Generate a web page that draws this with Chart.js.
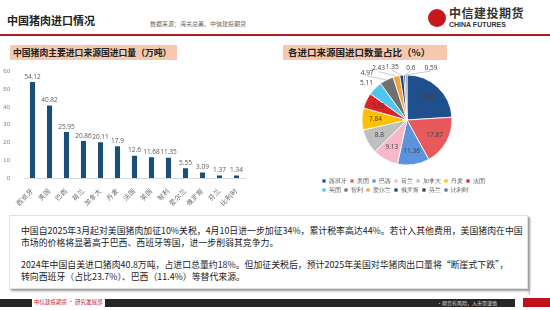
<!DOCTYPE html>
<html>
<head>
<meta charset="utf-8">
<script src="https://cdn.jsdelivr.net/npm/chart.js@4.4.1/dist/chart.umd.min.js"></script>
<style>
  body { margin: 0; width: 550px; height: 310px; background: #fff; overflow: hidden;
         font-family: "Noto Sans CJK SC", "Noto Sans", sans-serif; position: relative; }
  .abs { position: absolute; }
  #title { left: 7px; top: 12px; font-size: 11px; font-weight: bold; color: #222; }
  #source { left: 150px; top: 19px; font-size: 6px; color: #666; }
  #logoCircle { left: 428px; top: 9px; width: 18px; height: 18px; border-radius: 50%; background: #c8161d; }
  #logoCn { left: 449px; top: 4px; font-size: 12px; font-weight: bold; color: #333; letter-spacing: 0.5px; }
  #logoEn { left: 449px; top: 21px; font-size: 7px; font-weight: bold; color: #333; font-family: "Liberation Sans", sans-serif; }
  #topLine { left: 0; top: 34px; width: 550px; height: 2px; background: #b01c20; }
  .hdr { background: #f6c9ae; font-weight: bold; color: #222; white-space: nowrap; }
  #hdrL { left: 10px; top: 45px; width: 167px; height: 15px; font-size: 8.8px; line-height: 15px; padding-left: 3px; box-sizing: border-box; }
  #hdrR { left: 283px; top: 45px; width: 164px; height: 15px; font-size: 9.5px; line-height: 15px; padding-left: 5px; box-sizing: border-box; }
  #box { left: 9px; top: 215px; width: 519px; height: 74px; border: 1px solid #e2e2e2; box-shadow: 2px 2px 2px #999;
         box-sizing: border-box; padding: 9px 0 0 11px; font-size: 8.9px; line-height: 11.5px; color: #222; white-space: nowrap; }
  #box p { margin: 0 0 11px 0; }
  #ftBlack1 { left: 0; top: 299px; width: 32px; height: 8px; background: #262626; }
  #ftRed { left: 34px; top: 298px; font-size: 5.5px; color: #c0202a; }
  #ftBlack2 { left: 105px; top: 299px; width: 410px; height: 8px; background: #262626; }
  #ftWhite { left: 437px; top: 299px; font-size: 5px; color: #ddd; line-height: 8px; }
  #ftArrow { left: 523px; top: 298px; width: 27px; height: 9px; background: #c0101a; }
  #pageNo { left: 527px; top: 288px; font-size: 6px; color: #999; }
</style>
</head>
<body>
<div class="abs" id="title">中国猪肉进口情况</div>
<div class="abs" id="source">数据来源：海关总署、中信建投期货</div>
<div class="abs" id="logoCircle"></div>
<div class="abs" id="logoCn">中信建投期货</div>
<div class="abs" id="logoEn">CHINA FUTURES</div>
<div class="abs" id="topLine"></div>

<div class="abs hdr" id="hdrL">中国猪肉主要进口来源国进口量（万吨）</div>
<div class="abs hdr" id="hdrR">各进口来源国进口数量占比（%）</div>

<canvas class="abs" id="barChart" width="260" height="152" style="left:0;top:62px"></canvas>
<canvas class="abs" id="pieChart" width="200" height="145" style="left:307px;top:62px"></canvas>

<div class="abs" id="box">
  <p>中国自2025年3月起对美国猪肉加征10%关税，4月10日进一步加征34%，累计税率高达44%。若计入其他费用，美国猪肉在中国<br>市场的价格将显著高于巴西、西班牙等国，进一步削弱其竞争力。</p>
  <p>2024年中国自美进口猪肉40.8万吨，占进口总量约18%。但加征关税后，预计2025年美国对华猪肉出口量将“断崖式下跌”，<br>转向西班牙（占比23.7%）、巴西（11.4%）等替代来源。</p>
</div>

<div class="abs" id="pageNo">3</div>
<div class="abs" id="ftBlack1"></div>
<div class="abs" id="ftRed">中信建投期货 • 研究发展部</div>
<div class="abs" id="ftBlack2"></div>
<div class="abs" id="ftWhite">•期货有风险，入市需谨慎</div>
<div class="abs" id="ftArrow"></div>

<script>
// 进口来源国
const paises = ["西班牙", "美国", "巴西", "荷兰", "加拿大", "丹麦", "法国", "英国", "智利", "爱尔兰", "俄罗斯", "芬兰", "比利时"];
// 进口量（万吨）
const importacion = [54.12, 40.82, 25.95, 20.86, 20.11, 17.9, 12.6, 11.68, 11.35, 5.55, 3.09, 1.37, 1.34];
// 占比（%）
const porcentaje = [23.87, 17.87, 11.36, 9.13, 8.8, 7.84, 5.52, 5.11, 4.97, 2.43, 1.35, 0.6, 0.59];
const ticksY = [0, 10, 20, 30, 40, 50, 60];

const coloresPie = ["#1f4f8c", "#e8595c", "#5b93dc", "#f7b9c9", "#bfbfbf", "#ffc000", "#d9252a",
                    "#4fc6ee", "#707070", "#f4a040", "#1f3f6f", "#3d3d3d", "#6272a4"];
// 外侧标签微调 (dx, dy)，null = 内部标签
const ajusteEtiqueta = [null, null, null, null, null, null, null,
                        [0, 3], [-14, 4], [-15, 4], [-8, 4], [7, 5], [25, 5]];

// 柱子上方数值
const etiquetasBarra = {
  id: 'etiquetasBarra',
  afterDatasetsDraw(chart) {
    const ctx = chart.ctx;
    const meta = chart.getDatasetMeta(0);
    ctx.save();
    ctx.font = '6.5px "Open Sans", sans-serif';
    ctx.fillStyle = '#595959';
    ctx.textAlign = 'center';
    ctx.textBaseline = 'bottom';
    meta.data.forEach((bar, i) => {
      ctx.fillText(String(importacion[i]), bar.x, bar.y - 2);
    });
    ctx.restore();
  }
};

// 饼图标签
const etiquetasPie = {
  id: 'etiquetasPie',
  afterDatasetsDraw(chart) {
    const ctx = chart.ctx;
    const meta = chart.getDatasetMeta(0);
    ctx.save();
    ctx.font = '6.5px "Open Sans", sans-serif';
    ctx.textAlign = 'center';
    ctx.textBaseline = 'middle';
    meta.data.forEach((arc, i) => {
      const p = arc.getProps(['x', 'y', 'startAngle', 'endAngle', 'outerRadius'], true);
      const mid = (p.startAngle + p.endAngle) / 2;
      const r = p.outerRadius;
      const adj = ajusteEtiqueta[i];
      if (!adj) {
        ctx.fillStyle = '#404040';
        ctx.fillText(String(porcentaje[i]), p.x + Math.cos(mid) * r * 0.7, p.y + Math.sin(mid) * r * 0.7);
      } else {
        const ex = p.x + Math.cos(mid) * r, ey = p.y + Math.sin(mid) * r;
        const lx = p.x + Math.cos(mid) * (r + 12) + adj[0];
        const ly = p.y + Math.sin(mid) * (r + 12) + adj[1];
        if (i > 7) {
          ctx.strokeStyle = '#a6a6a6';
          ctx.lineWidth = 0.6;
          ctx.beginPath();
          ctx.moveTo(ex, ey);
          ctx.lineTo(lx, ly + 3);
          ctx.stroke();
        }
        ctx.fillStyle = '#404040';
        ctx.fillText(String(porcentaje[i]), lx, ly);
      }
    });
    ctx.restore();
  }
};

new Chart(document.getElementById('barChart').getContext('2d'), {
  type: 'bar',
  data: {
    labels: paises,
    datasets: [{
      data: importacion,
      backgroundColor: '#1a4f7a',
      barPercentage: 0.3,
      categoryPercentage: 1
    }]
  },
  options: {
    responsive: false,
    animation: false,
    layout: { padding: { top: 7, right: 15, left: 0, bottom: 0 } },
    plugins: { legend: { display: false }, tooltip: { enabled: false } },
    scales: {
      y: {
        min: 0, max: 60,
        afterBuildTicks: s => { s.ticks = ticksY.map(v => ({ value: v })); },
        afterFit: s => { s.width = 24; },
        grid: { display: false },
        border: { display: false },
        ticks: { font: { size: 6 }, color: '#7f7f7f', padding: 6 }
      },
      x: {
        afterFit: s => { s.height = 36; },
        grid: { display: false },
        border: { color: '#d9d9d9' },
        ticks: { minRotation: 45, maxRotation: 45, autoSkip: false, font: { size: 6.5 }, color: '#595959', padding: 1 }
      }
    }
  },
  plugins: [etiquetasBarra]
});

new Chart(document.getElementById('pieChart').getContext('2d'), {
  type: 'pie',
  data: {
    labels: paises,
    datasets: [{
      data: porcentaje,
      backgroundColor: coloresPie,
      borderColor: '#ffffff',
      borderWidth: 0.8,
      radius: 45
    }]
  },
  options: {
    responsive: false,
    animation: false,
    layout: { padding: { top: 3, bottom: 4, left: 12, right: 12 } },
    plugins: {
      tooltip: { enabled: false },
      legend: {
        position: 'bottom',
        align: 'start',
        labels: { boxWidth: 4, boxHeight: 4, padding: 3, font: { size: 6 }, color: '#595959' }
      }
    }
  },
  plugins: [etiquetasPie]
});
</script>
</body>
</html>
